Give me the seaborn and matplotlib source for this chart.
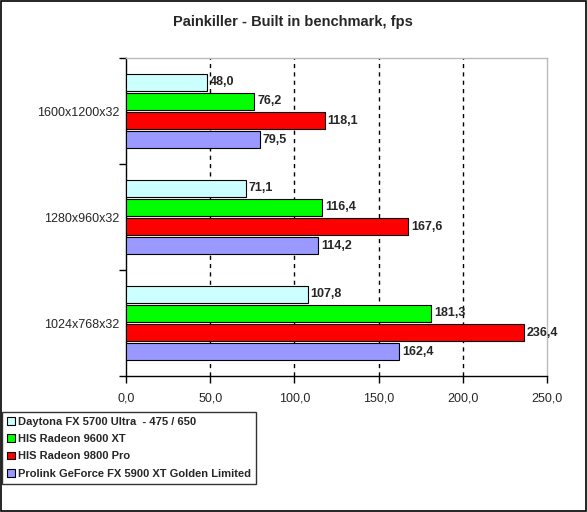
import pandas as pd
import matplotlib.pyplot as plt
import matplotlib.patches as mpatches
import seaborn as sns

resolutions = ['1600x1200x32', '1280x960x32', '1024x768x32']
cards = ['Daytona FX 5700 Ultra  - 475 / 650', 'HIS Radeon 9600 XT',
         'HIS Radeon 9800 Pro', 'Prolink GeForce FX 5900 XT Golden Limited']
daytona = [48.0, 71.1, 107.8]
his9600 = [76.2, 116.4, 181.3]
his9800 = [118.1, 167.6, 236.4]
prolink = [79.5, 114.2, 162.4]
colors = ['#CCFFFF', '#00FF00', '#FF0000', '#9999FF']
xticks = [0, 50, 100, 150, 200, 250]

rows = []
for card, vals in zip(cards, [daytona, his9600, his9800, prolink]):
    for res, v in zip(resolutions, vals):
        rows.append({'res': res, 'card': card, 'fps': v})
df = pd.DataFrame(rows)

sns.set_style('white')
plt.rcParams['font.family'] = ['Liberation Sans', 'DejaVu Sans']

fig = plt.figure(figsize=(5.87, 5.12), dpi=100)
ax = fig.add_axes([126 / 587, 1 - 376 / 512, 421 / 587, 318 / 512])

sns.barplot(data=df, y='res', x='fps', hue='card', order=resolutions,
            hue_order=cards, palette=colors, orient='h', width=0.72, gap=0.1,
            edgecolor='black', linewidth=0.8, saturation=1, ax=ax, legend=False,
            zorder=3)

for cont in ax.containers:
    labels = [f'{v:.1f}'.replace('.', ',') for v in cont.datavalues]
    ax.bar_label(cont, labels=labels, padding=2, fontsize=9, fontweight='bold')

ax.set_xlim(0, 250)
ax.set_ylim(2.5, -0.5)
ax.set_xticks(xticks)
ax.set_xticklabels([f'{t:.1f}'.replace('.', ',') for t in xticks], fontsize=9)
ax.set_yticks([0, 1, 2])
ax.set_yticklabels(resolutions, fontsize=9)
ax.tick_params(axis='y', length=0, pad=5)
ax.set_yticks([-0.5, 0.5, 1.5, 2.5], minor=True)
ax.tick_params(axis='y', which='minor', length=5, width=1, color='black', direction='out', left=True)
ax.tick_params(axis='x', length=5, width=1, color='black', direction='out', bottom=True, pad=7)
ax.set_xlabel('')
ax.set_ylabel('')

for t in xticks[1:-1]:
    ax.axvline(t, color='black', linestyle=(0, (3, 3)), linewidth=1, zorder=1)

ax.spines['left'].set_color('black')
ax.spines['bottom'].set_color('black')
ax.spines['top'].set_color('#BBBBBB')
ax.spines['right'].set_color('#BBBBBB')
for s in ax.spines.values():
    s.set_linewidth(1)

fig.text(293 / 587, 1 - 22 / 512, 'Painkiller - Built in benchmark, fps',
         ha='center', va='center', fontsize=10.5, fontweight='bold')

handles = [mpatches.Patch(facecolor=c, edgecolor='black', linewidth=0.8, label=l)
           for c, l in zip(colors, cards)]
leg = fig.legend(handles=handles, loc='upper left',
                 bbox_to_anchor=(2 / 587, 1 - 412 / 512),
                 prop={'weight': 'bold', 'size': 8}, frameon=True, fancybox=False,
                 edgecolor='black', handlelength=0.7, handleheight=0.7,
                 handletextpad=0.3, labelspacing=0.65, borderpad=0.45,
                 borderaxespad=0)
leg.get_frame().set_linewidth(1)

fig.patches.append(mpatches.Rectangle((0.001, 0.001), 0.997, 0.997, transform=fig.transFigure,
                                      fill=False, edgecolor='black', linewidth=1.2))

fig.savefig('out.png', dpi=100)
